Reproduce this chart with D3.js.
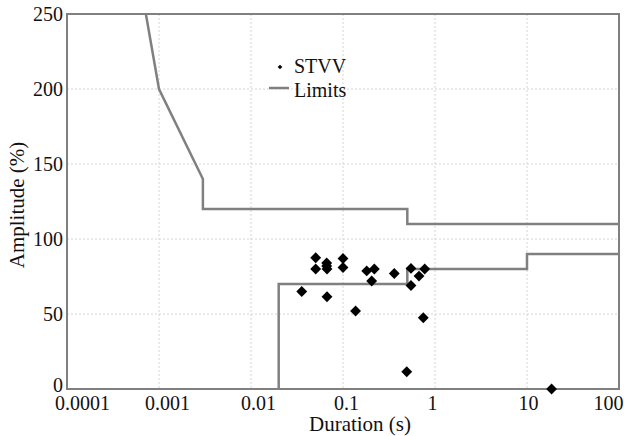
<!DOCTYPE html>
<html><head><meta charset="utf-8">
<script src="https://cdn.jsdelivr.net/npm/d3@7"></script>
<style>body{margin:0;background:#fff}svg{display:block}</style>
</head><body><svg id="c" width="624" height="436"></svg>
<script>
const xTicks = [0.0001, 0.001, 0.01, 0.1, 1, 10, 100];
const xTickLabels = ["0.0001", "0.001", "0.01", "0.1", "1", "10", "100"];
const yTicks = [0, 50, 100, 150, 200, 250];
const stvvDuration = [0.0356, 0.0505, 0.0505, 0.0665, 0.0665, 0.067, 0.067, 0.1, 0.1, 0.137, 0.181, 0.219, 0.205, 0.361, 0.548, 0.548, 0.67, 0.773, 0.746, 0.493, 18.5];
const stvvAmplitude = [65, 87.5, 80, 84, 82, 80, 61.5, 87, 81, 52, 78.7, 80, 72, 77, 80.4, 69, 75.3, 80, 47.5, 11.5, 0];
const upperDuration = [0.00072, 0.001, 0.003, 0.003, 0.5, 0.5, 100];
const upperAmplitude = [250, 200, 140, 120, 120, 110, 110];
const lowerDuration = [0.02, 0.02, 0.5, 0.5, 10, 10, 100];
const lowerAmplitude = [0, 70, 70, 80, 80, 90, 90];

const FONT = "Liberation Serif";
const L = 67, R = 619, T = 14, B = 389;
const svg = d3.select("#c");
const x = d3.scaleLog().domain([0.0001, 100]).range([L, R]);
const y = d3.scaleLinear().domain([0, 250]).range([B, T]);

// grid
const g = svg.append("g");
g.selectAll(".gx").data(xTicks).join("line")
  .attr("x1", d => x(d)).attr("x2", d => x(d)).attr("y1", T).attr("y2", B)
  .attr("stroke", "#d4d4d4").attr("stroke-width", 1).attr("stroke-dasharray", "2,2");
g.selectAll(".gy").data(yTicks).join("line")
  .attr("y1", d => y(d)).attr("y2", d => y(d)).attr("x1", L).attr("x2", R)
  .attr("stroke", "#d4d4d4").attr("stroke-width", 1).attr("stroke-dasharray", "2,2");

// axes
const xAxis = d3.axisBottom(x).tickValues(xTicks).tickFormat((d, i) => xTickLabels[i]).tickSize(0).tickPadding(0);
const ax = svg.append("g").attr("transform", `translate(0,${B})`).call(xAxis);
ax.attr("font-family", FONT).attr("font-size", 20);
ax.select(".domain").remove();
ax.selectAll("text").style("font-family", FONT).style("font-size", "20px").attr("fill", "#111")
  .attr("y", 21).attr("dy", 0)
  .attr("dx", (d, i) => [15, 8, 7, 3, -3, 1, -11][i]);
const yAxis = d3.axisLeft(y).tickValues(yTicks).tickSize(0).tickPadding(4);
const ay = svg.append("g").attr("transform", `translate(${L},0)`).call(yAxis);
ay.attr("font-family", FONT).attr("font-size", 20);
ay.select(".domain").remove();
ay.selectAll("text").style("font-family", FONT).style("font-size", "20px").attr("fill", "#111")
  .attr("dy", d => d === 0 ? "0.1em" : "0.33em");

svg.append("text").attr("x", 360).attr("y", 431).attr("text-anchor", "middle")
  .style("font-family", FONT).style("font-size", "21px").attr("fill", "#111").text("Duration (s)");
svg.append("text").attr("transform", "translate(24,205) rotate(-90)").attr("text-anchor", "middle")
  .style("font-family", FONT).style("font-size", "21px").attr("fill", "#111").text("Amplitude (%)");

// limit lines
const line = d3.line().x(d => x(d[0])).y(d => y(d[1]));
svg.append("path").datum(upperDuration.map((d, i) => [d, upperAmplitude[i]]))
  .attr("d", line).attr("fill", "none").attr("stroke", "#808080").attr("stroke-width", 2.5);
svg.append("path").datum(lowerDuration.map((d, i) => [d, lowerAmplitude[i]]))
  .attr("d", line).attr("fill", "none").attr("stroke", "#808080").attr("stroke-width", 2.5);

// frame
svg.append("rect").attr("x", L).attr("y", T).attr("width", R - L).attr("height", B - T)
  .attr("fill", "none").attr("stroke", "#808080").attr("stroke-width", 2);

// points
const diamond = d3.symbol().type(d3.symbolDiamond2).size(75);
svg.selectAll(".pt").data(stvvDuration.map((d, i) => [d, stvvAmplitude[i]])).join("path")
  .attr("transform", d => `translate(${x(d[0])},${y(d[1])})`)
  .attr("d", diamond).attr("fill", "#000");

// legend
svg.append("path").attr("transform", "translate(280,67)").attr("d", d3.symbol().type(d3.symbolDiamond2).size(14)).attr("fill", "#000");
svg.append("text").attr("x", 294).attr("y", 73).style("font-family", FONT).style("font-size", "20px").attr("fill", "#111").text("STVV");
svg.append("line").attr("x1", 269).attr("x2", 289).attr("y1", 88).attr("y2", 88).attr("stroke", "#808080").attr("stroke-width", 2.5);
svg.append("text").attr("x", 294).attr("y", 97).style("font-family", FONT).style("font-size", "20px").attr("fill", "#111").text("Limits");
</script></body></html>
